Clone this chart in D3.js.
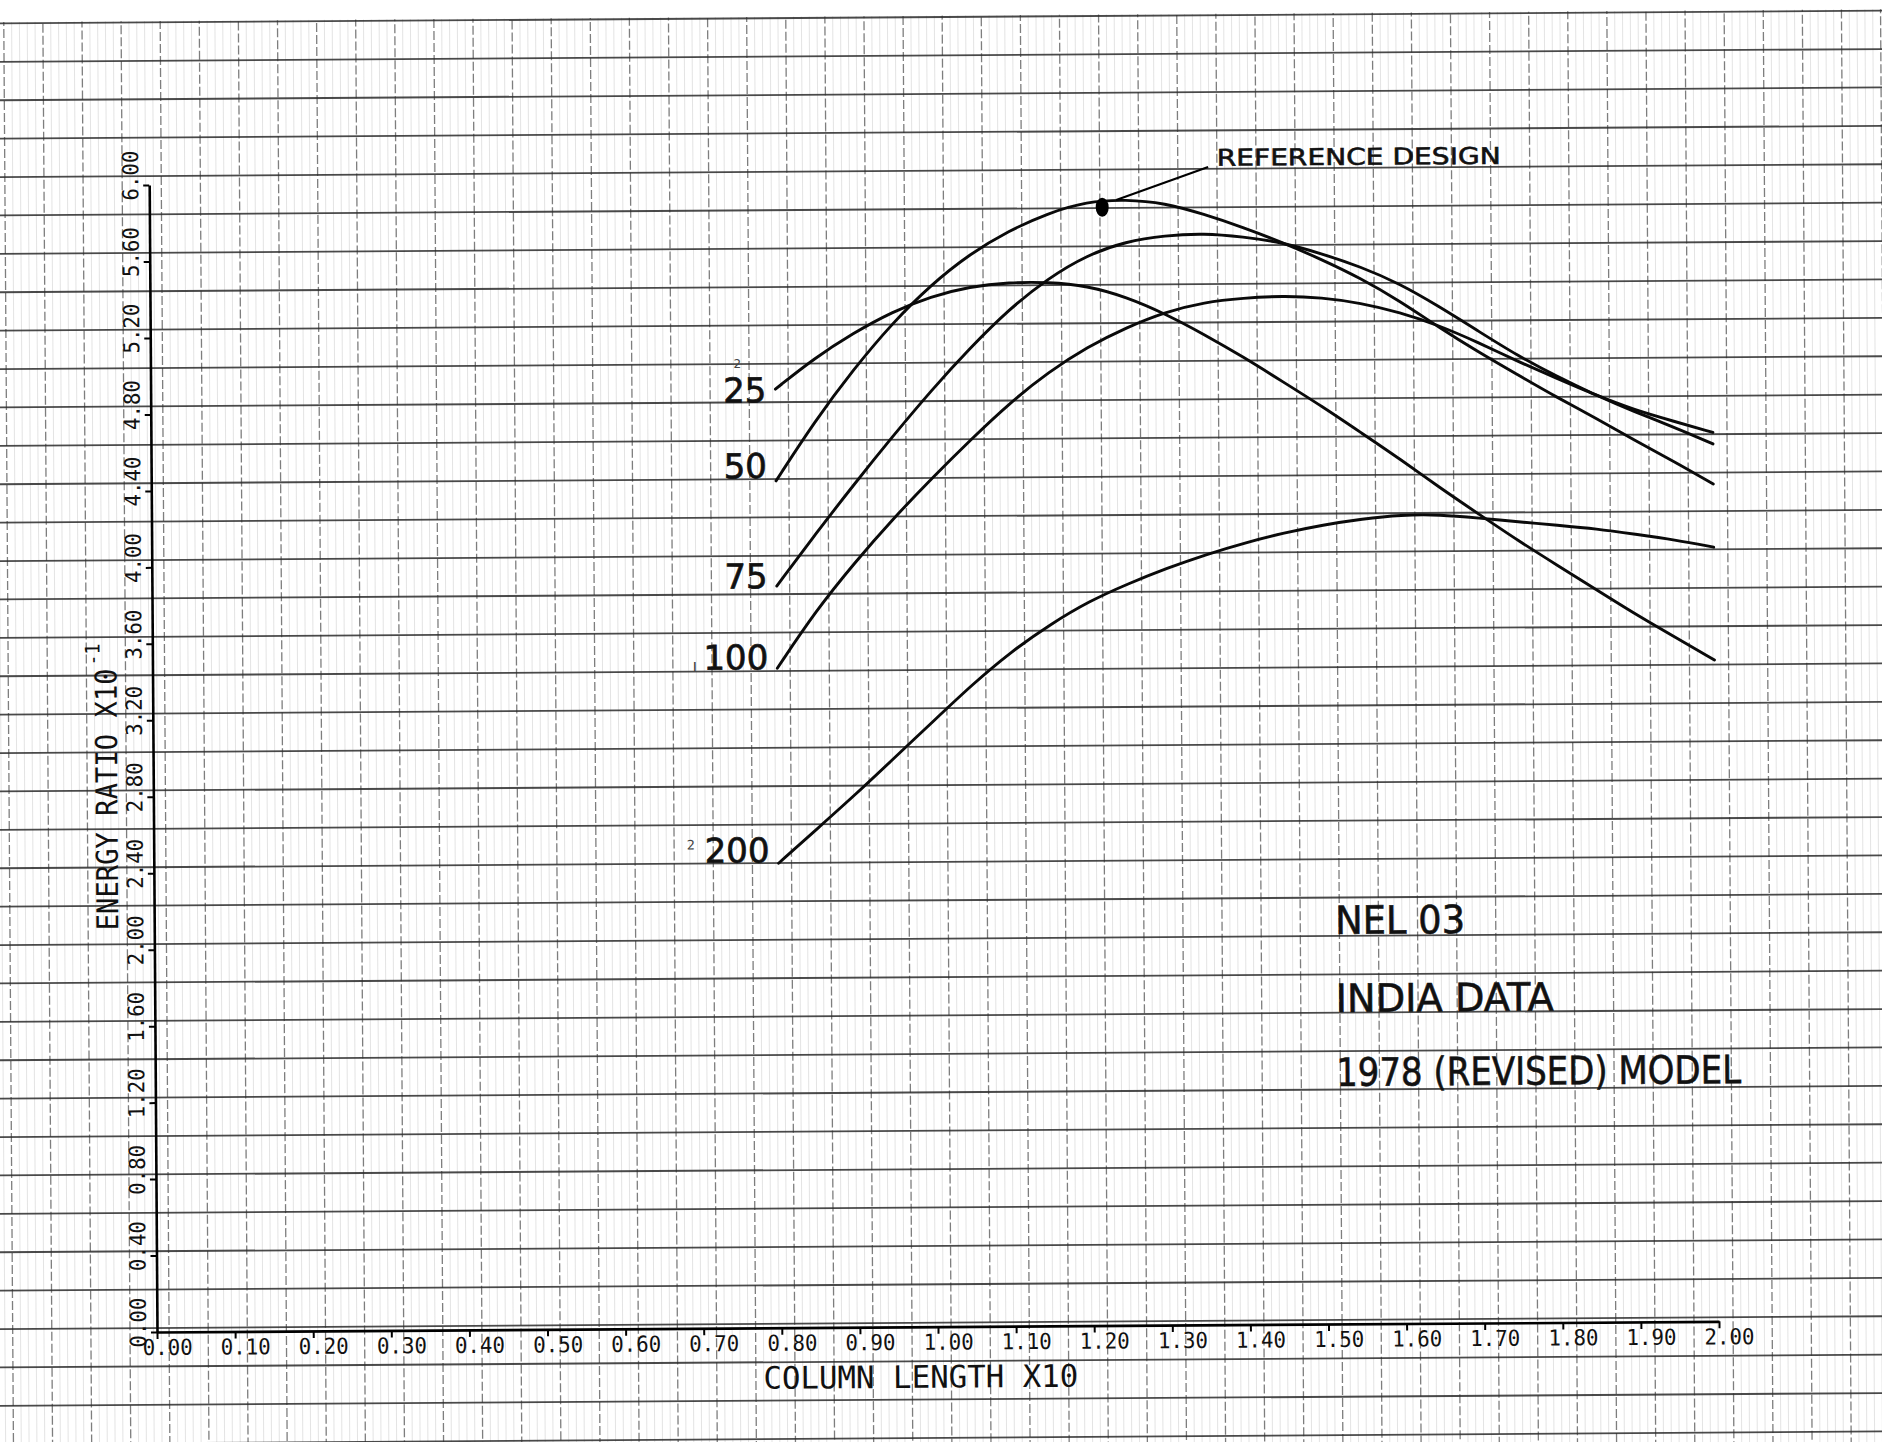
<!DOCTYPE html>
<html>
<head>
<meta charset="utf-8">
<script src="https://cdn.jsdelivr.net/npm/d3@7"></script>
<style>
  html, body { margin: 0; padding: 0; background: #fff; }
  svg { display: block; }
</style>
</head>
<body>
<svg id="chart" width="1882" height="1442"></svg>
<script>
// Column length (x10) at which every curve is sampled
const columnLength = [0.80, 0.85, 0.90, 0.95, 1.00, 1.05, 1.10, 1.15, 1.20, 1.25, 1.30, 1.35, 1.40,
                      1.45, 1.50, 1.55, 1.60, 1.65, 1.70, 1.75, 1.80, 1.85, 1.90, 1.95, 2.00];

// Energy ratio (x10^-1) for each curve
const ratio25  = [4.91, 5.07, 5.20, 5.31, 5.39, 5.44, 5.46, 5.46, 5.44, 5.38, 5.29, 5.18, 5.06,
                  4.93, 4.80, 4.66, 4.52, 4.37, 4.23, 4.09, 3.96, 3.83, 3.70, 3.58, 3.46];
const ratio50  = [4.43, 4.74, 5.01, 5.25, 5.45, 5.61, 5.73, 5.82, 5.88, 5.89, 5.87, 5.81, 5.74,
                  5.66, 5.57, 5.47, 5.35, 5.21, 5.08, 4.96, 4.84, 4.73, 4.61, 4.50, 4.38];
const ratio75  = [3.88, 4.15, 4.41, 4.66, 4.90, 5.12, 5.32, 5.48, 5.60, 5.67, 5.70, 5.71, 5.69,
                  5.66, 5.60, 5.53, 5.44, 5.32, 5.19, 5.06, 4.95, 4.85, 4.76, 4.68, 4.59];
const ratio100 = [3.45, 3.75, 4.00, 4.23, 4.44, 4.64, 4.83, 4.99, 5.12, 5.22, 5.30, 5.35, 5.37,
                  5.38, 5.37, 5.34, 5.29, 5.22, 5.13, 5.03, 4.94, 4.85, 4.77, 4.71, 4.65];
const ratio200 = [2.43, 2.61, 2.79, 2.98, 3.17, 3.36, 3.53, 3.67, 3.79, 3.88, 3.96, 4.03, 4.09,
                  4.14, 4.18, 4.21, 4.23, 4.23, 4.21, 4.19, 4.17, 4.15, 4.12, 4.09, 4.05];

const curveNames  = ["25", "50", "75", "100", "200"];
const curveValues = [ratio25, ratio50, ratio75, ratio100, ratio200];

// Axis tick labels
const xTickValues = [0.00, 0.10, 0.20, 0.30, 0.40, 0.50, 0.60, 0.70, 0.80, 0.90, 1.00,
                     1.10, 1.20, 1.30, 1.40, 1.50, 1.60, 1.70, 1.80, 1.90, 2.00];
const yTickValues = [0.00, 0.40, 0.80, 1.20, 1.60, 2.00, 2.40, 2.80, 3.20, 3.60, 4.00,
                     4.40, 4.80, 5.20, 5.60, 6.00];

// Reference design point (column length, energy ratio)
const referenceDesign = [1.22, 5.85];

const xTitle = "COLUMN LENGTH X10";
const yTitle = "ENERGY RATIO X10";
const yTitleExponent = "-1";
const noteLines = ["NEL 03", "INDIA DATA", "1978 (REVISED) MODEL"];
const referenceText = "REFERENCE DESIGN";

// ---- layout ----
const W = 1882, H = 1442;
const x = d3.scaleLinear().domain([0, 2]).range([157, 1719]);
const y = d3.scaleLinear().domain([0, 6]).range([1332, 185]);

const plotterFont = "'DejaVu Sans Mono', 'Liberation Mono', monospace";
const handFont = "'DejaVu Sans', 'Liberation Sans', sans-serif";

const svg = d3.select("#chart");
svg.append("rect").attr("width", W).attr("height", H).attr("fill", "#fff");

// the sheet sits slightly askew
const sheet = svg.append("g")
  .attr("transform", `rotate(-0.39, ${x(0)}, ${y(0)})`);

// ---- graph paper ----
const paper = sheet.append("g").attr("class", "paper");
const colStep = 39.1, colStart = 130 - 4 * 39.1;
const rowStep = 38.4, rowBase = 1328;
const cols = d3.range(0, 52).map(k => colStart + k * colStep);
const rows = d3.range(-4, 35).map(k => rowBase - k * rowStep).filter(v => v >= 20);
const paperTop = 21, paperBottom = H + 30;

// faint rulings between the main columns
const fineCols = [];
cols.forEach(c => { for (let j = 1; j < 5; j++) fineCols.push(c + j * colStep / 5); });
paper.selectAll("line.fv").data(fineCols).join("line")
  .attr("class", "fv")
  .attr("x1", d => d).attr("x2", d => d).attr("y1", paperTop).attr("y2", paperBottom)
  .attr("stroke", "#b5b5b5").attr("stroke-width", 0.8).attr("opacity", 0.45);

// main rulings: broken verticals, solid horizontals
paper.selectAll("line.v").data(cols).join("line")
  .attr("class", "v")
  .attr("x1", d => d).attr("x2", d => d).attr("y1", paperTop).attr("y2", paperBottom)
  .attr("stroke", "#3a3a3a").attr("stroke-width", 1.3)
  .attr("stroke-dasharray", "9 3")
  .attr("stroke-dashoffset", (d, i) => (i * 5) % 12)
  .attr("opacity", 0.65);
paper.selectAll("line.h").data(rows).join("line")
  .attr("class", "h")
  .attr("x1", -40).attr("x2", W + 40).attr("y1", d => d).attr("y2", d => d)
  .attr("stroke", "#2b2b2b").attr("stroke-width", 1.8).attr("opacity", 0.85);

// ---- axes ----
const xAxis = sheet.append("g")
  .attr("transform", `translate(0,${y(0)})`)
  .call(d3.axisBottom(x).tickValues(xTickValues).tickSize(7).tickSizeOuter(0)
        .tickFormat(d3.format(".2f")));
const yAxis = sheet.append("g")
  .attr("transform", `translate(${x(0)},0)`)
  .call(d3.axisLeft(y).tickValues(yTickValues).tickSize(6).tickSizeOuter(0)
        .tickFormat(d3.format(".2f")));

[xAxis, yAxis].forEach(g => {
  g.attr("font-family", plotterFont).attr("font-size", 22);
  g.select(".domain").attr("stroke", "#000").attr("stroke-width", 2.6);
  g.selectAll(".tick line").attr("stroke", "#000").attr("stroke-width", 2);
  g.selectAll(".tick text").attr("fill", "#111")
    .attr("textLength", 50).attr("lengthAdjust", "spacingAndGlyphs");
});
xAxis.selectAll(".tick text")
  .attr("text-anchor", "start").attr("x", -15).attr("y", 23).attr("dy", null);
yAxis.selectAll(".tick text")
  .attr("text-anchor", "start").attr("x", null).attr("dy", null)
  .attr("transform", "translate(-11,15) rotate(-90)");

// axis titles
sheet.append("text")
  .attr("x", 763).attr("y", 1393)
  .attr("font-family", plotterFont).attr("font-size", 31).attr("fill", "#111")
  .attr("textLength", 315).attr("lengthAdjust", "spacingAndGlyphs")
  .text(xTitle);
const yTitleBottom = 930, yTitleLen = 262;
sheet.append("text")
  .attr("transform", `translate(121,${yTitleBottom}) rotate(-90)`)
  .attr("font-family", plotterFont).attr("font-size", 30).attr("fill", "#111")
  .attr("textLength", yTitleLen).attr("lengthAdjust", "spacingAndGlyphs")
  .text(yTitle);
sheet.append("text")
  .attr("transform", `translate(104,${yTitleBottom - yTitleLen - 3}) rotate(-90)`)
  .attr("font-family", plotterFont).attr("font-size", 20).attr("fill", "#111")
  .attr("textLength", 22).attr("lengthAdjust", "spacingAndGlyphs")
  .text(yTitleExponent);

// ---- curves ----
const line = d3.line()
  .x((d, i) => x(columnLength[i]))
  .y(d => y(d))
  .curve(d3.curveBasis);

sheet.append("g").selectAll("path").data(curveValues).join("path")
  .attr("d", d => line(d))
  .attr("fill", "none").attr("stroke", "#0a0a0a")
  .attr("stroke-width", 2.9).attr("stroke-linecap", "round").attr("stroke-linejoin", "round");

// curve labels, written at the start of each curve
const labelShift = { "25": 13, "50": -3, "75": 2, "100": 1, "200": -1 };
sheet.append("g").selectAll("text").data(curveNames).join("text")
  .attr("x", x(columnLength[0]) - 9)
  .attr("y", (d, i) => y(curveValues[i][0]) + labelShift[d])
  .attr("text-anchor", "end")
  .attr("font-family", handFont).attr("font-size", 34).attr("fill", "#111")
  .attr("stroke", "#111").attr("stroke-width", 0.7)
  .text(d => d);

// small pencil marks beside a few labels
const pencil = sheet.append("g")
  .attr("font-family", handFont).attr("fill", "#444");
pencil.append("text").attr("x", 740).attr("y", 372).attr("font-size", 12).text("2");
pencil.append("text").attr("x", 697).attr("y", 675).attr("font-size", 17).text("ı");
pencil.append("text").attr("x", 690).attr("y", 853).attr("font-size", 13).text("2");

// ---- reference design ----
const ref = sheet.append("g");
ref.append("ellipse")
  .attr("cx", x(referenceDesign[0])).attr("cy", y(referenceDesign[1]))
  .attr("rx", 6.5).attr("ry", 9.5).attr("fill", "#000");
ref.append("line")
  .attr("x1", x(1.238)).attr("y1", y(5.887))
  .attr("x2", x(1.356)).attr("y2", y(6.057))
  .attr("stroke", "#000").attr("stroke-width", 2.2);
ref.append("text")
  .attr("x", x(1.367)).attr("y", y(6.063))
  .attr("font-family", handFont).attr("font-size", 23).attr("fill", "#111")
  .attr("stroke", "#111").attr("stroke-width", 0.6)
  .attr("textLength", 284).attr("lengthAdjust", "spacingAndGlyphs")
  .text(referenceText);

// ---- notes block ----
const noteY = [2.04, 1.632, 1.245];
const noteLen = [130, 218, 405];
sheet.append("g").selectAll("text").data(noteLines).join("text")
  .attr("x", x(1.512)).attr("y", (d, i) => y(noteY[i]))
  .attr("font-family", handFont).attr("font-size", 39).attr("fill", "#111")
  .attr("stroke", "#111").attr("stroke-width", 0.6)
  .attr("textLength", (d, i) => noteLen[i]).attr("lengthAdjust", "spacingAndGlyphs")
  .text(d => d);
</script>
</body>
</html>
